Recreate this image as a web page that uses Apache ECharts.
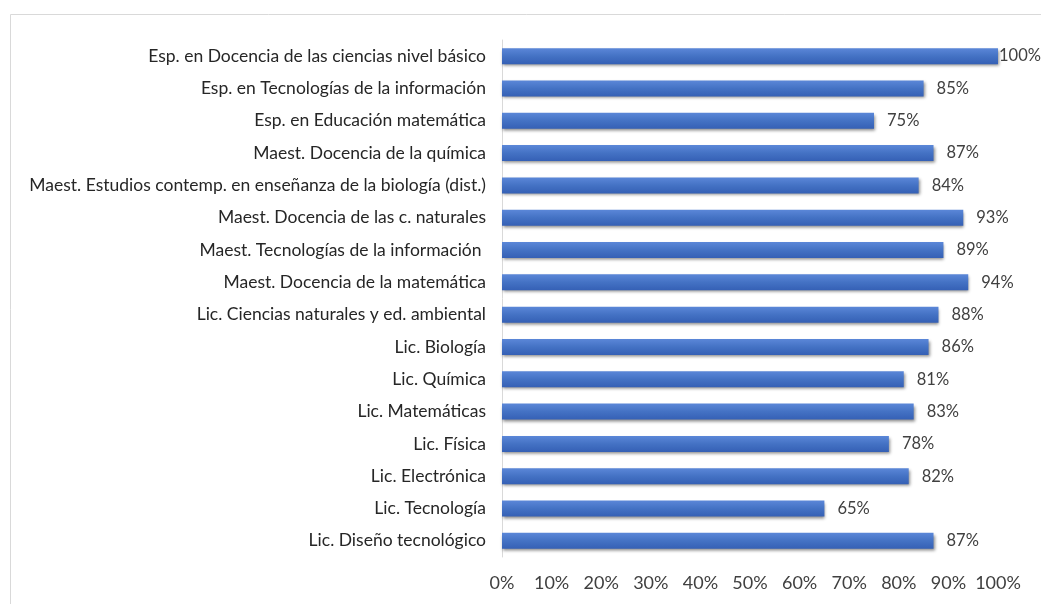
<!DOCTYPE html>
<html>
<head>
<meta charset="utf-8">
<script src="https://cdn.jsdelivr.net/npm/echarts@6/dist/echarts.min.js"></script>
<style>
html,body{margin:0;padding:0;background:#fff;}
#chart{width:1041px;height:604px;}
</style>
</head>
<body>
<div id="chart"></div>
<script>
var programas = ['Esp. en Docencia de las ciencias nivel básico','Esp. en Tecnologías de la información','Esp. en Educación matemática','Maest. Docencia de la química','Maest. Estudios contemp. en enseñanza de la biología (dist.)','Maest. Docencia de las c. naturales','Maest. Tecnologías de la información ','Maest. Docencia de la matemática','Lic. Ciencias naturales y ed. ambiental','Lic. Biología','Lic. Química','Lic. Matemáticas','Lic. Física','Lic. Electrónica','Lic. Tecnología','Lic. Diseño tecnológico'];
var porcentajes = [100,85,75,87,84,93,89,94,88,86,81,83,78,82,65,87];

var myChart = echarts.init(document.getElementById('chart'));
var option = {
    animation: false,
    textStyle: {fontFamily: 'Lato, "Open Sans", sans-serif'},
    graphic: [{
        type: 'rect',
        shape: {x: 10.5, y: 14.5, width: 1040, height: 600},
        style: {fill: 'none', stroke: '#d9d9d9', lineWidth: 1},
        silent: true
    }],
    grid: {left: 502, right: 43, top: 40, bottom: 47},
    xAxis: {
        type: 'value',
        min: 0,
        max: 100,
        interval: 10,
        axisLine: {show: false},
        axisTick: {show: false},
        splitLine: {show: false},
        axisLabel: {formatter: '{value}%', color: '#404040', fontSize: 18, margin: 17}
    },
    yAxis: {
        type: 'category',
        data: programas,
        inverse: true,
        axisLine: {lineStyle: {color: '#d9d9d9'}},
        axisTick: {show: false},
        axisLabel: {color: '#262626', fontSize: 17.5, margin: 16}
    },
    series: [{
        type: 'bar',
        data: porcentajes.map(function (v) {
            return v === 100 ? {value: v, label: {distance: 1}} : v;
        }),
        barWidth: 16,
        itemStyle: {
            color: new echarts.graphic.LinearGradient(0, 0, 0, 1, [
                {offset: 0, color: '#5b87d8'},
                {offset: 0.5, color: '#4472c4'},
                {offset: 1, color: '#3560b5'}
            ]),
            shadowColor: 'rgba(0,0,0,0.45)',
            shadowBlur: 3,
            shadowOffsetX: 1,
            shadowOffsetY: 2
        },
        label: {
            show: true,
            position: 'right',
            distance: 13,
            formatter: '{c}%',
            color: '#404040',
            fontSize: 16.5
        }
    }]
};
myChart.setOption(option);
</script>
</body>
</html>
